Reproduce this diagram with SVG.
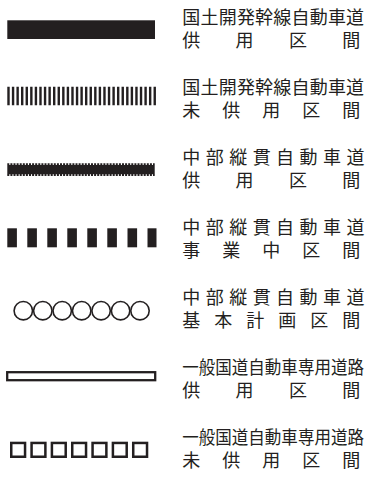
<svg xmlns="http://www.w3.org/2000/svg" width="368" height="481" viewBox="0 0 368 481">
<style>
.t{font-family:"Noto Sans CJK JP","Noto Sans CJK SC",sans-serif;font-size:18px;fill:#231f20}
.k{fill:#231f20}
.o{fill:none;stroke:#231f20}
</style>
<rect width="368" height="481" fill="#fff"/>
<g id="row1">
<rect class="k" x="7.3" y="20.3" width="147.7" height="18.7"/>
<text class="t"><tspan x="182.3 200.5 218.7 236.9 255.1 273.3 291.5 309.7 327.9 346.1" y="24">国土開発幹線自動車道</tspan><tspan x="182.3 235.6 288.9 342.3" y="47">供用区間</tspan></text>
</g>
<g id="row2">
<line x1="7.3" y1="96" x2="156.5" y2="96" stroke="#231f20" stroke-width="18.7" stroke-dasharray="2.4 2.17"/>
<text class="t"><tspan x="182.3 200.5 218.7 236.9 255.1 273.3 291.5 309.7 327.9 346.1" y="94">国土開発幹線自動車道</tspan><tspan x="182.3 222.3 262.3 302.3 342.3" y="117">未供用区間</tspan></text>
</g>
<g id="row3">
<rect class="k" x="7.3" y="165" width="147.4" height="9.2"/>
<line x1="7.3" y1="164.2" x2="154.7" y2="164.2" stroke="#231f20" stroke-width="1.8" stroke-dasharray="2 1.1"/>
<line x1="7.3" y1="175" x2="154.7" y2="175" stroke="#231f20" stroke-width="1.8" stroke-dasharray="2 1.1"/>
<text class="t"><tspan x="182.3 205.8 229.2 252.7 276.1 299.6 323 346.5" y="164">中部縦貫自動車道</tspan><tspan x="182.3 235.6 288.9 342.3" y="187">供用区間</tspan></text>
</g>
<g id="row4">
<rect class="k" x="7.3" y="228.3" width="9.6" height="19"/>
<rect class="k" x="27.3" y="228.3" width="9.6" height="19"/>
<rect class="k" x="47.3" y="228.3" width="9.6" height="19"/>
<rect class="k" x="67.3" y="228.3" width="9.6" height="19"/>
<rect class="k" x="87.3" y="228.3" width="9.6" height="19"/>
<rect class="k" x="107.3" y="228.3" width="9.6" height="19"/>
<rect class="k" x="127.5" y="228.3" width="9.6" height="19"/>
<rect class="k" x="147.5" y="228.3" width="9" height="19"/>
<text class="t"><tspan x="182.3 205.8 229.2 252.7 276.1 299.6 323 346.5" y="234">中部縦貫自動車道</tspan><tspan x="182.3 222.3 262.3 302.3 342.3" y="257">事業中区間</tspan></text>
</g>
<g id="row5">
<g class="o" stroke-width="1.6">
<circle cx="23.3" cy="310.7" r="9.2"/>
<circle cx="42.8" cy="310.7" r="9.2"/>
<circle cx="62.2" cy="310.7" r="9.2"/>
<circle cx="81.7" cy="310.7" r="9.2"/>
<circle cx="101.1" cy="310.7" r="9.2"/>
<circle cx="120.6" cy="310.7" r="9.2"/>
<circle cx="140" cy="310.7" r="9.2"/>
</g>
<text class="t"><tspan x="182.3 205.8 229.2 252.7 276.1 299.6 323 346.5" y="304">中部縦貫自動車道</tspan><tspan x="182.3 214.3 246.3 278.3 310.3 342.3" y="327">基本計画区間</tspan></text>
</g>
<g id="row6">
<rect class="o" x="7.2" y="372.2" width="148" height="8" stroke-width="2.3"/>
<text class="t" transform="translate(182.3,374) scale(0.918,1)" x="0" y="0">一般国道自動車専用道路</text>
<text class="t" x="182.3 235.6 288.9 342.3" y="397">供用区間</text>
</g>
<g id="row7">
<g class="o" stroke-width="2.5">
<rect x="11.25" y="442.95" width="13.8" height="13.8"/>
<rect x="31.58" y="442.95" width="13.8" height="13.8"/>
<rect x="51.91" y="442.95" width="13.8" height="13.8"/>
<rect x="72.24" y="442.95" width="13.8" height="13.8"/>
<rect x="92.57" y="442.95" width="13.8" height="13.8"/>
<rect x="112.9" y="442.95" width="13.8" height="13.8"/>
<rect x="133.23" y="442.95" width="13.8" height="13.8"/>
</g>
<text class="t" transform="translate(182.3,444) scale(0.918,1)" x="0" y="0">一般国道自動車専用道路</text>
<text class="t" x="182.3 222.3 262.3 302.3 342.3" y="467">未供用区間</text>
</g>
</svg>
